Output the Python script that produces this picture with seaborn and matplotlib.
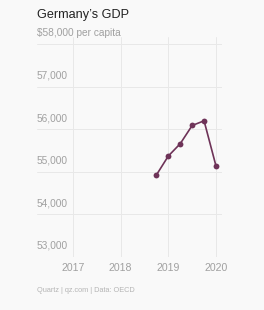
import matplotlib
matplotlib.use("Agg")
import matplotlib.pyplot as plt
import seaborn as sns
import pandas as pd

# Data (quarterly GDP per capita)
quarters = [2018.75, 2019.0, 2019.25, 2019.5, 2019.75, 2020.0]
gdp = [54930, 55376, 55666, 56094, 56204, 55141]
year_ticks = [2017, 2018, 2019, 2020]
y_ticks = [53000, 54000, 55000, 56000, 57000, 58000]
y_labels = ["53,000", "54,000", "55,000", "56,000", "57,000", "$58,000 per capita"]
title = "Germany\u2019s GDP"
footer = "Quartz | qz.com | Data: OECD"

df = pd.DataFrame({"t": quarters, "gdp": gdp})

sns.set_style("white")
plt.rcParams["font.family"] = ["Liberation Sans", "DejaVu Sans"]

bg = "#f9f9f9"
fig = plt.figure(figsize=(2.64, 3.10), dpi=100, facecolor=bg)
ax = fig.add_axes([37/264, 1 - 257/310, 185/264, 220/310])
ax.set_facecolor(bg)

ax.set_xlim(2016.245, 2020.126)
ax.set_ylim(53000, 58176)

for y in y_ticks:
    ax.axhline(y, color="#e8e8e8", lw=0.7, zorder=0)
for x in year_ticks:
    ax.axvline(x, color="#e8e8e8", lw=0.7, zorder=0)

sns.lineplot(data=df, x="t", y="gdp", ax=ax, color="#6e3358", lw=1.2,
             marker="o", markersize=4.2, markeredgewidth=0, zorder=3)

for s in ax.spines.values():
    s.set_visible(False)
ax.set_xticks([])
ax.set_yticks([])
ax.set_xlabel("")
ax.set_ylabel("")

for y, lab in zip(y_ticks, y_labels):
    ax.text(0.0, y + 150, lab, transform=ax.get_yaxis_transform(),
            ha="left", va="bottom", fontsize=7.3, color="#a0a0a0", zorder=2)

for x in year_ticks:
    fig.text((37 + (x - 2016.245) * 47.67) / 264, 1 - 268/310, str(x),
             ha="center", va="center", fontsize=7.6, color="#a0a0a0")

fig.text(37/264, 1 - 15/310, title, ha="left", va="center", fontsize=9.1, color="#222222")
fig.text(37/264, 1 - 290/310, footer, ha="left", va="center", fontsize=5.3, color="#b5b5b5")

fig.savefig("out.png", dpi=100, facecolor=bg)
